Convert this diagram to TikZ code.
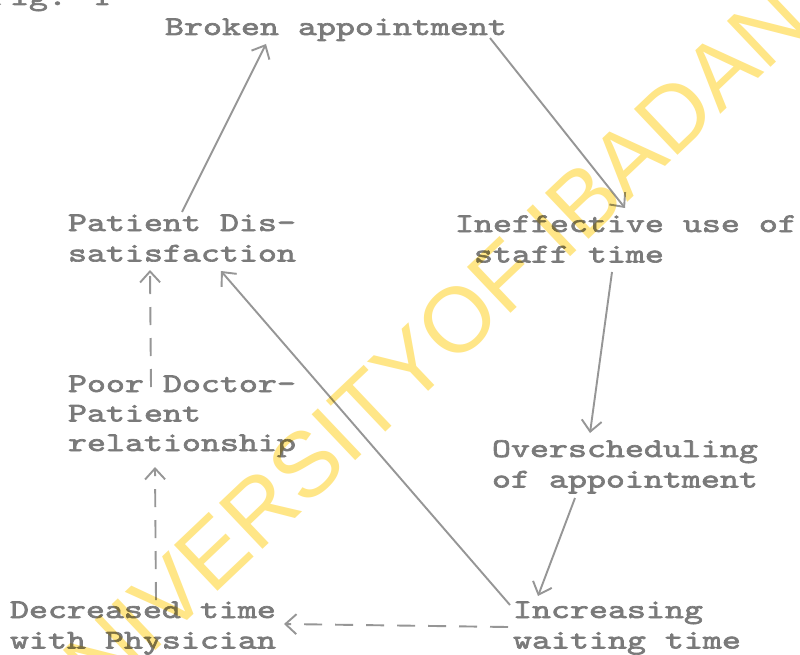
\documentclass[tikz,border=0pt]{standalone}
\usepackage{fontspec}
\usetikzlibrary{arrows.meta,calc}
\newfontfamily\tw{lmmono10-regular.otf}[FakeStretch=1.34,FakeBold=2.4]
\newfontfamily\wm{Liberation Sans}
\definecolor{txtgray}{RGB}{122,122,122}
\definecolor{lngray}{RGB}{150,150,150}
\definecolor{wmyellow}{RGB}{255,230,135}
\newcommand\twolines[2]{\vtop{\baselineskip=30.5pt\hbox{#1}\hbox{#2}}}
\newcommand\threelines[3]{\vtop{\baselineskip=29.5pt\hbox{#1}\hbox{#2}\hbox{#3}}}
\tikzset{
  txt/.style={anchor=base west, inner sep=0pt, outer sep=0pt, text=txtgray,
    font=\tw\fontsize{27}{30.5}\selectfont},
  lnk/.style={draw=lngray, line width=1.9pt,
    -{Straight Barb[length=11pt,width=20pt,line width=1.9pt]}},
  dlnk/.style={lnk, dash pattern=on 18pt off 13pt},
  wmk/.style={inner sep=0pt, outer sep=0pt, rotate=43.5, text=wmyellow,
    font=\wm\fontsize{92}{92}\selectfont}
}
\begin{document}
\begin{tikzpicture}[x=1pt,y=-1pt]
\useasboundingbox (0,0) rectangle (800,655);
\clip (0,0) rectangle (800,655);
\fill[white] (0,0) rectangle (800,655);

\node[txt] (fig) at (-9,5) {Fig. 1};
\node[txt] (ba) at (165,35) {Broken appointment};
\node[txt] (pd) at (68,231) {\twolines{Patient Dis-}{satisfaction}};
\node[txt] (ie) at (455,232) {\twolines{Ineffective use of}{\phantom{s}staff time}};
\node[txt] (pr) at (68,392) {\threelines{Poor Doctor-}{Patient}{relationship}};
\node[txt] (ov) at (492,457) {\twolines{Overscheduling}{of appointment}};
\node[txt] (dt) at (10,618) {\twolines{Decreased time}{with Physician}};
\node[txt] (iw) at (513,618) {\twolines{Increasing}{waiting time}};

\draw[lnk] ([shift={(114,-19)}]pd.base west) -- ([shift={(101,9)}]ba.base west);
\draw[lnk] ([shift={(325,3)}]ba.base west) -- ([shift={(170,-24)}]ie.base west);
\draw[lnk] ([shift={(157,40)}]ie.base west) -- ([shift={(98,-24)}]ov.base west);
\draw[lnk] ([shift={(83,41)}]ov.base west) -- ([shift={(25,-22)}]iw.base west);
\draw[lnk] ([shift={(-3,-13)}]iw.base west) -- ([shift={(153,40)}]pd.base west);
\draw[dlnk] ([shift={(-5,9)}]iw.base west) -- ([shift={(274,6)}]dt.base west);
\draw[dlnk] ([shift={(146,-18)}]dt.base west) -- ([shift={(87,75)}]pr.base west);
\draw[dlnk] ([shift={(83,-5)}]pr.base west) -- ([shift={(82,39)}]pd.base west);

\begin{scope}[blend mode=multiply]
\node[wmk, anchor=base east] (wm1) at (453.6,367.6) {UNIVERSITY\ };
\node[wmk, anchor=base west] (wm2) at (453.6,367.6) {OF IBADAN};
\end{scope}
\end{tikzpicture}
\end{document}
